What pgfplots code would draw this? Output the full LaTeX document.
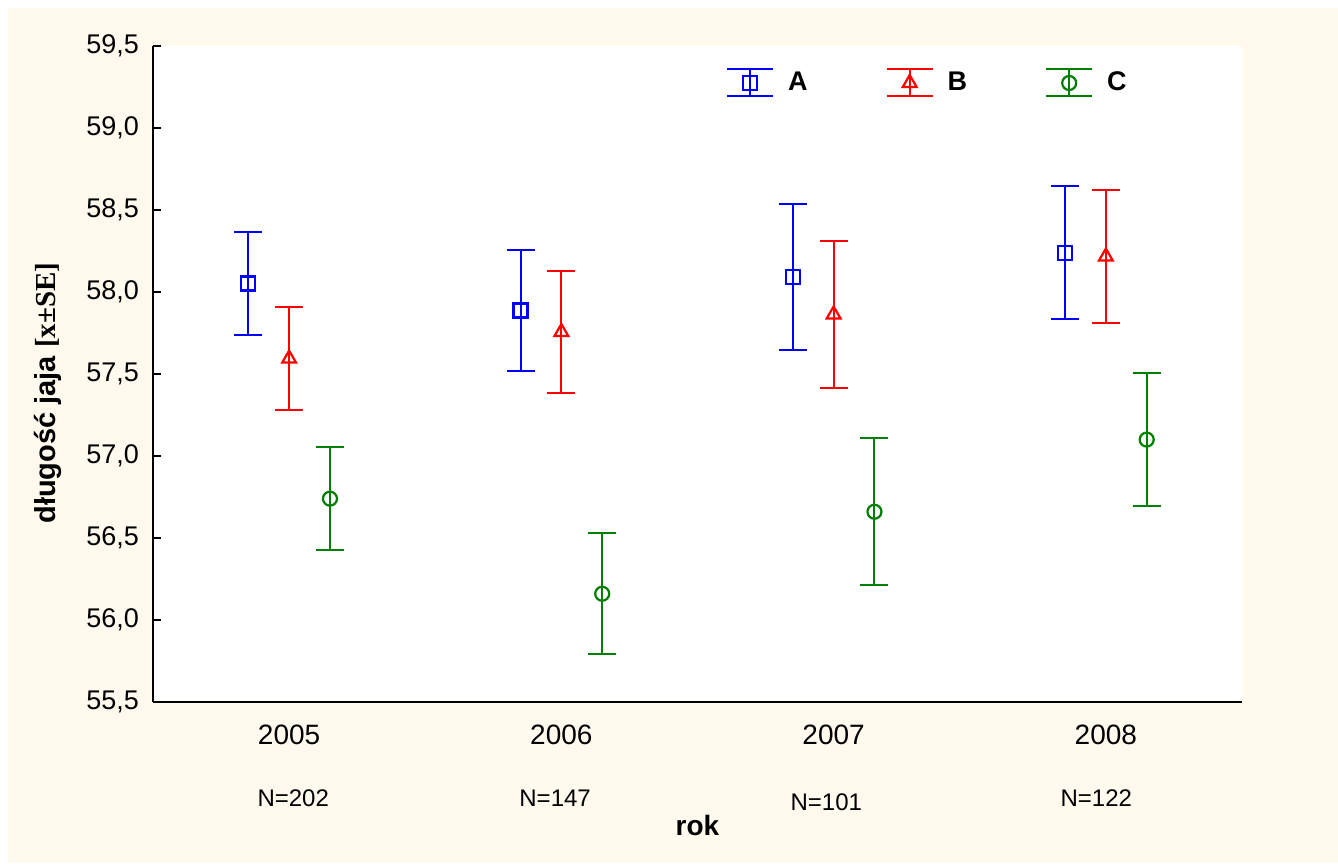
\documentclass[border=0pt]{standalone}
\usepackage{fontspec}
\setmainfont{Liberation Sans}
\newfontfamily\timesfont{Liberation Serif}
\usepackage{pgfplots}
\usepackage{pgfplotstable}
\pgfplotsset{compat=1.18}
\definecolor{cream}{RGB}{255,249,238}
\definecolor{sgreen}{RGB}{0,128,0}

% mean and standard error of egg length per year
\pgfplotstableread{
x      y      e
-0.15  58.052 0.314
 0.85  57.887 0.369
 1.85  58.090 0.445
 2.85  58.240 0.405
}\seriesA
\pgfplotstableread{
x      y      e
 0.00  57.594 0.315
 1.00  57.756 0.372
 2.00  57.863 0.448
 3.00  58.216 0.405
}\seriesB
\pgfplotstableread{
x      y      e
 0.15  56.740 0.315
 1.15  56.160 0.368
 2.15  56.660 0.448
 3.15  57.100 0.405
}\seriesC

\pgfplotsset{
  errstyle/.style={
    only marks,
    mark options={fill=white, solid, line width=1.1pt},
    error bars/.cd, y dir=both, y explicit,
      error mark=|,
      error bar style={line width=1pt},
      error mark options={line width=1pt, mark size=7pt},
  },
}

\begin{document}
\begin{tikzpicture}
\useasboundingbox (-76.5pt,-80.5pt) rectangle (592.5pt,351pt);
\fill[white] (-76.5pt,-80.5pt) rectangle (592.5pt,351pt);
\fill[cream] (-72.5pt,-80.5pt) rectangle (592.5pt,347pt);
\begin{axis}[
  at={(0,0)}, anchor=south west,
  scale only axis, width=544.5pt, height=328pt,
  clip=false,
  xmin=-0.5, xmax=3.5, ymin=55.5, ymax=59.5,
  axis x line=bottom, axis y line=left,
  axis line style={-, black},
  x axis line style={line width=1.1pt},
  y axis line style={line width=0.8pt},
  axis background/.style={fill=white},
  xtick={0,1,2,3}, xticklabels={2005,2006,2007,2008},
  xtick style={draw=none},
  xticklabel style={font=\fontsize{14}{16}\selectfont, anchor=center, yshift=-16.5pt},
  ytick distance=0.5,
  tick align=inside, major tick length=4pt,
  ytick style={line width=0.8pt, black},
  yticklabel style={font=\fontsize{13.5}{15}\selectfont, xshift=-3.5pt},
  /pgf/number format/.cd, fixed, fixed zerofill, precision=1, use comma, assume math mode=true,
  /pgfplots/.cd,
  ylabel={\textbf{długość jaja} {\bfseries\timesfont[x±SE]}},
  every axis y label/.style={at={(axis description cs:-0.0964,0.471)}, rotate=90, anchor=center, font=\fontsize{14.5}{16}\selectfont},
  xlabel={\textbf{rok}},
  every axis x label/.style={at={(axis description cs:0.5,-0.1875)}, anchor=center, font=\fontsize{14}{16}\selectfont},
  legend columns=3,
  legend style={draw=none, fill=none, inner sep=0pt,
    at={(axis description cs:0.526,0.9436)}, anchor=west,
    font=\fontsize{13.5}{15}\selectfont\bfseries,
    nodes={inner sep=0pt},
    /tikz/every odd column/.append style={column sep=7pt},
    /tikz/every even column/.append style={column sep=39pt}},
  legend image code/.code={
    \draw[line width=1pt] (0pt,6.75pt) -- (23pt,6.75pt)
      (0pt,-6.75pt) -- (23pt,-6.75pt)
      (11.5pt,6.75pt) -- (11.5pt,-6.75pt);
    \draw[#1] plot coordinates {(11.5pt,0pt)};
  },
]
\addplot[blue, mark=square, mark size=3.5pt, errstyle]
  table[x=x, y=y, y error=e]{\seriesA};
\addlegendentry{A}
\addplot[red, mark=triangle, mark size=4pt, errstyle]
  table[x=x, y=y, y error=e]{\seriesB};
\addlegendentry{B}
\addplot[sgreen, mark=o, mark size=3.5pt, errstyle]
  table[x=x, y=y, y error=e]{\seriesC};
\addlegendentry{C}

\node[font=\fontsize{12}{14}\selectfont] at ([yshift=-48pt]axis cs:0.015,55.5) {N=202};
\node[font=\fontsize{12}{14}\selectfont] at ([yshift=-48pt]axis cs:0.977,55.5) {N=147};
\node[font=\fontsize{12}{14}\selectfont] at ([yshift=-50pt]axis cs:1.973,55.5) {N=101};
\node[font=\fontsize{12}{14}\selectfont] at ([yshift=-48pt]axis cs:2.965,55.5) {N=122};
\end{axis}
\end{tikzpicture}
\end{document}
